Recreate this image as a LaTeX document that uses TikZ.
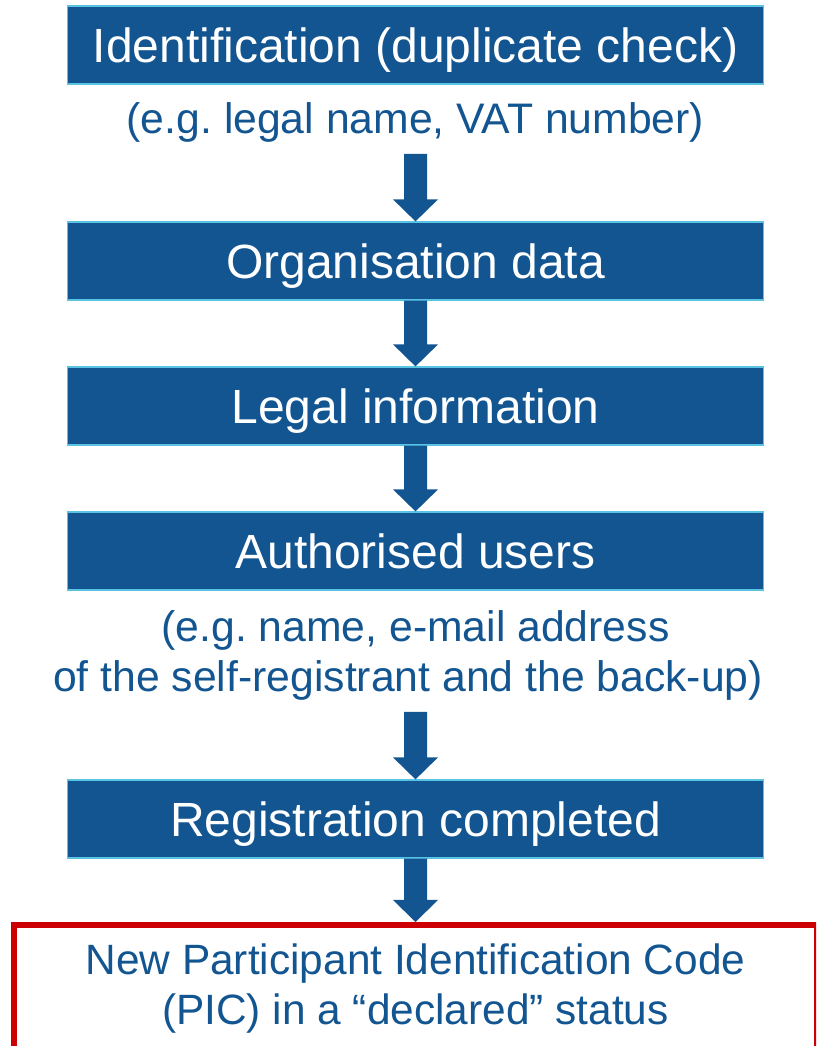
\documentclass[tikz,border=0pt]{standalone}
\usepackage{fontspec}
\setmainfont{Liberation Sans}
\definecolor{stepblue}{RGB}{18,85,145}
\definecolor{edgecyan}{RGB}{90,195,228}
\definecolor{picred}{RGB}{204,0,0}
\frenchspacing
\begin{document}
\begin{tikzpicture}[x=1pt,y=1pt,
  stepbox/.style={fill=stepblue,draw=edgecyan,line width=1.2pt,minimum width=695.5pt,minimum height=78pt,
    inner sep=0pt,text=white,font=\fontsize{48}{56}\selectfont,text height=36pt,text depth=0pt},
  note/.style={text=stepblue,font=\fontsize{42.7}{50}\selectfont,align=center,inner xsep=0pt,inner ysep=11.5pt,anchor=south},
  picbox/.style={draw=picred,line width=6pt,minimum width=803.5pt,minimum height=128pt,inner sep=0pt,
    text=stepblue,font=\fontsize{42.4}{50}\selectfont,align=center}]
\useasboundingbox (0,0) rectangle (816,1046);
\clip (0,0) rectangle (816,1046);

\node[stepbox] (ident) at (415.5,1001) {Identification (duplicate check)};
\node[note] (note1) at (415.5,892) {(e.g. legal name, VAT number)};
\node[stepbox] (org) at (415.5,785) {Organisation data};
\node[stepbox] (legal) at (415.5,640) {Legal information};
\node[stepbox] (users) at (415.5,495) {Authorised users};
\node[note] (note2) at (415.5,334) {(e.g. name, e-mail address\\of the self-registrant and the back-up)\hspace*{15pt}};
\node[stepbox] (done) at (415.5,227) {Registration completed};
\node[picbox] (pic) at (415.5,57) {New Participant Identification Code\\(PIC) in a “declared” status};

\foreach \a/\b in {note1/org,org/legal,legal/users,note2/done,done/pic}
  \fill[stepblue] ([xshift=-11.5pt]\a.south) -- ([xshift=11.5pt]\a.south)
    -- ([xshift=11.5pt,yshift=22pt]\b.north) -- ([xshift=22.5pt,yshift=22pt]\b.north) -- (\b.north)
    -- ([xshift=-22.5pt,yshift=22pt]\b.north) -- ([xshift=-11.5pt,yshift=22pt]\b.north) -- cycle;
\end{tikzpicture}
\end{document}
